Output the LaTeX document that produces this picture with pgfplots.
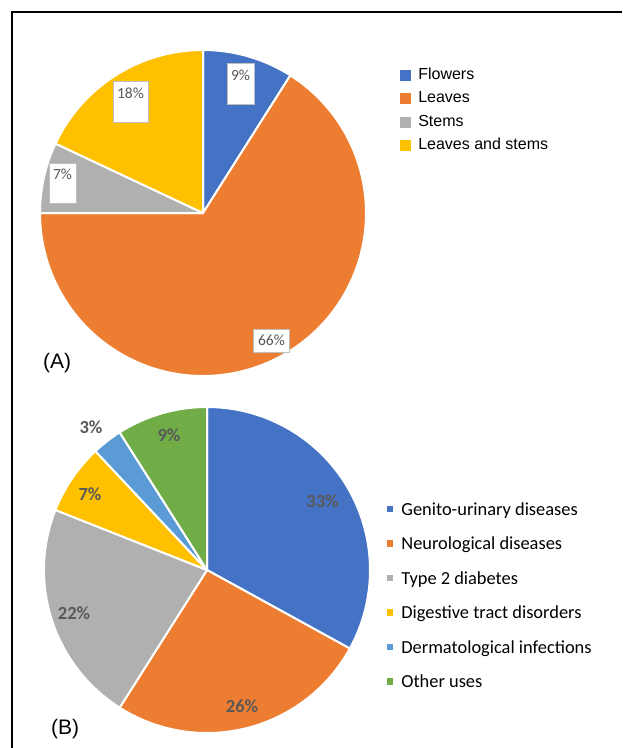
\documentclass[border=0pt]{standalone}
\usepackage{pgfplots}
\pgfplotsset{compat=1.18}
\usepackage{pgfplotstable}
\usepackage{fontspec}
\setmainfont{Liberation Sans}
\newfontfamily\calibri{Carlito}
\definecolor{colA0}{HTML}{4472C4}
\definecolor{colA1}{HTML}{ED7D31}
\definecolor{colA2}{HTML}{B0B0B0}
\definecolor{colA3}{HTML}{FFC000}
\definecolor{colB0}{HTML}{4472C4}
\definecolor{colB1}{HTML}{ED7D31}
\definecolor{colB2}{HTML}{B0B0B0}
\definecolor{colB3}{HTML}{FFC000}
\definecolor{colB4}{HTML}{5B9BD5}
\definecolor{colB5}{HTML}{70AD47}
\definecolor{lab}{HTML}{595959}
\definecolor{boxc}{HTML}{BFBFBF}

\pgfplotstableread{
name value
Flowers 9
Leaves 66
Stems 7
{Leaves and stems} 18
}\dataA
\pgfplotstableread{
name value
{Genito-urinary diseases} 33
{Neurological diseases} 26
{Type 2 diabetes} 22
{Digestive tract disorders} 7
{Dermatological infections} 3
{Other uses} 9
}\dataB

\newcommand\pieslices[3]{%
  \def\cum{0}%
  \pgfplotsforeachungrouped \i in {0,...,#3}{%
    \pgfplotstablegetelem{\i}{value}\of#1\let\val\pgfplotsretval
    \pgfplotstablegetelem{\i}{name}\of#1\let\nm\pgfplotsretval
    \pgfmathsetmacro\sa{90-3.6*\cum}%
    \pgfmathsetmacro\sb{90-3.6*(\cum+\val)}%
    \pgfmathsetmacro\cum{\cum+\val}%
    \edef\temp{\noexpand\addplot[fill=#2\i, draw=white, line width=2pt, line join=round, domain=\sb:\sa, samples=120] ({cos(x)},{sin(x)}) -- (0,0) -- cycle; \noexpand\addlegendentry{\nm}}%
    \temp
  }}

\begin{document}
\begin{tikzpicture}
\useasboundingbox (0pt,0pt) rectangle (622pt,-748pt);

\begin{axis}[at={(203pt,-213pt)}, anchor=center, scale only axis,
  width=326pt, height=326pt, xmin=-1, xmax=1, ymin=-1, ymax=1,
  hide axis, clip=false,
  legend image code/.code={\fill[#1, draw=none] (0pt,-1.5pt) rectangle (11pt,9.5pt);},
  legend cell align=left,
  legend style={draw=none, fill=none, at={(1.1043,0.9454)}, anchor=north west,
    inner sep=0pt, outer sep=0pt, row sep=9pt, column sep=7.3pt,
    cells={anchor=base west},
    font=\fontsize{16}{19}\selectfont,
    nodes={inner sep=0pt, outer sep=0pt, text height=11.5pt, text depth=3pt}}]
\pieslices{\dataA}{colA}{3}
\end{axis}

\begin{axis}[at={(207pt,-570pt)}, anchor=center, scale only axis,
  width=326pt, height=326pt, xmin=-1, xmax=1, ymin=-1, ymax=1,
  hide axis, clip=false,
  legend image code/.code={\fill[#1, draw=none] (0pt,3pt) rectangle (6.2pt,9.2pt);},
  legend cell align=left,
  legend style={draw=none, fill=none, at={(1.0512,0.7055)}, anchor=north west,
    inner sep=0pt, outer sep=0pt, row sep=18.5pt, column sep=8.5pt,
    cells={anchor=base west},
    font=\calibri\fontsize{18.4}{22}\selectfont,
    nodes={inner sep=0pt, outer sep=0pt, text height=12pt, text depth=4pt}}]
\pieslices{\dataB}{colB}{5}
\end{axis}

\begin{scope}[x=1pt, y=-1pt]
  \draw[line width=1.2pt] (12,748) -- (12,12) -- (622,12);
  % labels panel A
  \draw[boxc, line width=0.8pt, fill=white] (227,63) rectangle (254,104);
  \draw[boxc, line width=0.8pt, fill=white] (113,81) rectangle (148,122);
  \draw[boxc, line width=0.8pt, fill=white] (49,163) rectangle (76,203);
  \draw[boxc, line width=0.8pt, fill=white] (253,329) rectangle (289,352);
  \begin{scope}[every node/.style={anchor=base, inner sep=0pt, text=lab, font=\calibri\fontsize{15.5}{18}\selectfont}]
    \node at (240.5,80.5) {9\%};
    \node at (130.5,98) {18\%};
    \node at (62.5,179.5) {7\%};
    \node at (271.5,345) {66\%};
  \end{scope}
  % labels panel B
  \begin{scope}[every node/.style={anchor=base, inner sep=0pt, text=lab, font=\calibri\bfseries\fontsize{18.5}{22}\selectfont}]
    \node at (322.5,507) {33\%};
    \node at (242,712.5) {26\%};
    \node at (74,619) {22\%};
    \node at (90,500) {7\%};
    \node at (91,433) {3\%};
    \node at (169,441) {9\%};
  \end{scope}
  \node[anchor=base west, inner sep=0pt, font=\fontsize{21}{25}\selectfont] at (43,368.5) {(A)};
  \node[anchor=base west, inner sep=0pt, font=\fontsize{21}{25}\selectfont] at (51,734.5) {(B)};
\end{scope}
\end{tikzpicture}
\end{document}
